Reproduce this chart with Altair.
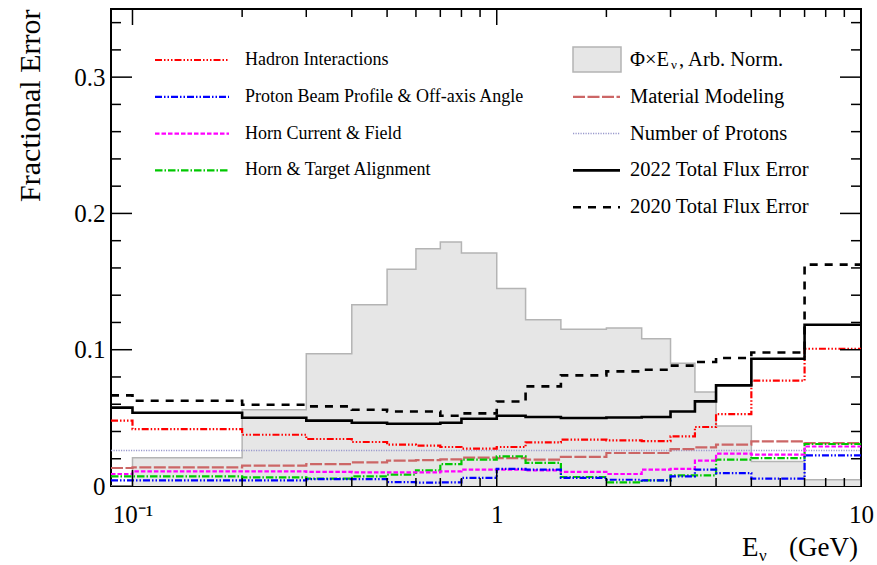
import altair as alt
import pandas as pd

# ---------------- data ----------------
edges = [0.0873, 0.1, 0.2, 0.3, 0.4, 0.5, 0.6, 0.7, 0.8, 1.0, 1.2, 1.5,
         2.0, 2.5, 3.0, 3.5, 4.0, 5.0, 7.0, 10.0]

flux = [0.0, 0.0208, 0.056, 0.097, 0.133, 0.159, 0.174, 0.179, 0.171, 0.145,
        0.122, 0.115, 0.116, 0.108, 0.090, 0.069, 0.044, 0.018, 0.0046]
hadron = [0.0479, 0.0418, 0.0376, 0.0345, 0.0323, 0.0303, 0.0296, 0.0286, 0.0274,
          0.0286, 0.032, 0.034, 0.0335, 0.033, 0.0364, 0.0433, 0.0528, 0.0773, 0.1007]
beam = [0.0041, 0.0041, 0.0041, 0.0051, 0.0051, 0.0029, 0.0025, 0.0027, 0.0059,
        0.0125, 0.012, 0.0059, 0.0046, 0.0041, 0.0071, 0.012, 0.0095, 0.0054, 0.0225]
horn_current = [0.0088, 0.0107, 0.0107, 0.0103, 0.0100, 0.0100, 0.0100, 0.0107, 0.012,
                0.012, 0.0115, 0.0103, 0.0088, 0.012, 0.0125, 0.0186, 0.0237, 0.023, 0.029]
alignment = [0.0071, 0.0071, 0.0063, 0.0054, 0.0071, 0.0083, 0.0115, 0.0161, 0.0193,
             0.0217, 0.0169, 0.0066, 0.0027, 0.0041, 0.0078, 0.0078, 0.0193, 0.0205, 0.0308]
material = [0.0132, 0.0137, 0.0149, 0.0161, 0.0173, 0.0186, 0.019, 0.0195, 0.0208,
            0.0205, 0.0193, 0.0213, 0.0242, 0.0242, 0.0271, 0.0283, 0.0303, 0.0327, 0.0315]
protons = [0.026, 0.026, 0.026, 0.026, 0.026, 0.026, 0.026, 0.026, 0.026, 0.026,
           0.026, 0.026, 0.026, 0.026, 0.026, 0.026, 0.026, 0.026, 0.026]
total_2022 = [0.0575, 0.0538, 0.0501, 0.048, 0.0464, 0.0457, 0.0457, 0.0464, 0.0494,
              0.0516, 0.0506, 0.0499, 0.0503, 0.0506, 0.0547, 0.0621, 0.0738, 0.0934, 0.1183]
total_2020 = [0.0665, 0.0626, 0.0596, 0.0584, 0.056, 0.0547, 0.0547, 0.0516, 0.0533,
              0.062, 0.0731, 0.0812, 0.0841, 0.0853, 0.0883, 0.091, 0.0939, 0.098, 0.1624]

left_names = ["Hadron Interactions", "Proton Beam Profile & Off-axis Angle",
              "Horn Current & Field", "Horn & Target Alignment"]
right_names = ["Material Modeling", "Number of Protons",
               "2022 Total Flux Error", "2020 Total Flux Error"]
flux_label = ["Φ×E", "ν", ", Arb. Norm."]
x_title = ["E", "ν", "(GeV)"]
y_title = "Fractional Error"

y_major = [0, 0.1, 0.2, 0.3]
y_minor = [0.02, 0.04, 0.06, 0.08, 0.12, 0.14, 0.16, 0.18, 0.22, 0.24, 0.26, 0.28,
           0.32, 0.34]
x_major = [0.1, 1, 10]
x_minor = [0.2, 0.3, 0.4, 0.5, 0.6, 0.7, 0.8, 0.9, 2, 3, 4, 5, 6, 7, 8, 9]

# ---------------- styling ----------------
W, H = 750, 477
FONT = "Liberation Serif"

styles = {
    "Hadron Interactions": ("#ff0000", [7, 2, 1.5, 2, 1.5, 2, 1.5, 2], 2.2),
    "Proton Beam Profile & Off-axis Angle": ("#0000ff", [7, 2, 1.5, 2, 1.5, 2], 2.2),
    "Horn Current & Field": ("#ff00ff", [4.5, 2], 2.2),
    "Horn & Target Alignment": ("#00c800", [7.5, 2, 1.5, 2], 2.2),
    "Material Modeling": ("#cc6666", [12, 2.5], 2.2),
    "Number of Protons": ("#9999cc", [1.2, 1.3], 1.5),
    "2022 Total Flux Error": ("#000000", [], 2.6),
    "2020 Total Flux Error": ("#000000", [8, 7], 2.6),
}
series = {
    "Number of Protons": protons,
    "Material Modeling": material,
    "Horn & Target Alignment": alignment,
    "Horn Current & Field": horn_current,
    "Proton Beam Profile & Off-axis Angle": beam,
    "Hadron Interactions": hadron,
    "2020 Total Flux Error": total_2020,
    "2022 Total Flux Error": total_2022,
}

xs = alt.Scale(type="log", domain=[edges[0], edges[-1]], nice=False)
ys = alt.Scale(domain=[0, 0.35], nice=False, zero=False)

x_axis = alt.Axis(values=x_major, ticks=False, domain=False, grid=False,
                  labelExpr="datum.value < 0.5 ? '10⁻¹' : (datum.value < 5 ? '1' : '10')",
                  labelFont=FONT, labelFontSize=25, labelColor="black",
                  labelPadding=16, labelFlush=False, labelOverlap=False, title=None)
y_axis = alt.Axis(values=y_major, ticks=False, domain=False, grid=False,
                  labelExpr="datum.value == 0 ? '0' : format(datum.value, '.1f')",
                  labelFont=FONT, labelFontSize=25, labelColor="black",
                  labelPadding=6, labelFlush=False, labelOverlap=False,
                  title=y_title, titleFont=FONT, titleFontSize=30,
                  titleFontWeight="normal", titleColor="black", titleAngle=270,
                  titleAlign="right", titleBaseline="middle", titleX=-81, titleY=0)


def X():
    return alt.X("e:Q", scale=xs, axis=x_axis)


def Y():
    return alt.Y("v:Q", scale=ys, axis=y_axis)


def step_df(vals):
    return pd.DataFrame({"e": edges, "v": list(vals) + [vals[-1]]})


layers = []

# flux histogram (filled + outline)
fdf = step_df(flux)
layers.append(alt.Chart(fdf).mark_area(interpolate="step-after", color="#e6e6e6",
                                       clip=True).encode(x=X(), y=Y()))
layers.append(alt.Chart(fdf).mark_line(interpolate="step-after", color="#b4b4b4",
                                       strokeWidth=1.5, clip=True).encode(x=X(), y=Y()))

# error curves
for name, vals in series.items():
    col, dash, sw = styles[name]
    kw = dict(interpolate="step-after", color=col, strokeWidth=sw, clip=True)
    if dash:
        kw["strokeDash"] = dash
    layers.append(alt.Chart(step_df(vals)).mark_line(**kw).encode(x=X(), y=Y()))

# inward ticks on all four sides
def ytick(vals, length):
    df = pd.DataFrame({"v": vals})
    a = alt.Chart(df).mark_rule(color="black", strokeWidth=1.5).encode(
        y=Y(), x=alt.value(0), x2=alt.value(length))
    b = alt.Chart(df).mark_rule(color="black", strokeWidth=1.5).encode(
        y=Y(), x=alt.value(W), x2=alt.value(W - length))
    return [a, b]


def xtick(vals, length):
    df = pd.DataFrame({"e": vals})
    a = alt.Chart(df).mark_rule(color="black", strokeWidth=1.5).encode(
        x=X(), y=alt.value(H), y2=alt.value(H - length))
    b = alt.Chart(df).mark_rule(color="black", strokeWidth=1.5).encode(
        x=X(), y=alt.value(0), y2=alt.value(length))
    return [a, b]


layers += ytick(y_major[1:], 21) + ytick(y_minor, 10)
layers += xtick(x_major, 16) + xtick(x_minor, 8)

# ---------------- legend (built by hand, ROOT style) ----------------
ROW0, STEP = 51, 36.8
for i, name in enumerate(left_names):
    col, dash, sw = styles[name]
    yy = ROW0 + STEP * i
    ldf = pd.DataFrame({"label": [name]})
    kw = dict(color=col, strokeWidth=sw)
    if dash:
        kw["strokeDash"] = dash
    layers.append(alt.Chart(ldf).mark_rule(**kw).encode(
        x=alt.value(44), x2=alt.value(118), y=alt.value(yy)))
    layers.append(alt.Chart(ldf).mark_text(align="left", baseline="middle", font=FONT,
                                           fontSize=18, color="black").encode(
        x=alt.value(134), y=alt.value(yy), text="label:N"))

# flux entry (box + composite label)
bdf = pd.DataFrame({"label": [flux_label[0]]})
layers.append(alt.Chart(bdf).mark_rect(fill="#e6e6e6", stroke="#b4b4b4",
                                       strokeWidth=1.5).encode(
    x=alt.value(462), x2=alt.value(510), y=alt.value(ROW0 - 13), y2=alt.value(ROW0 + 12)))
for txt, xx, dy, fs in [(flux_label[0], 519, 0, 20.5), (flux_label[1], 560, 5, 13),
                        (flux_label[2], 568, 0, 20.5)]:
    layers.append(alt.Chart(pd.DataFrame({"label": [txt]})).mark_text(
        align="left", baseline="middle", font=FONT, fontSize=fs, color="black").encode(
        x=alt.value(xx), y=alt.value(ROW0 + dy), text="label:N"))

for i, name in enumerate(right_names):
    col, dash, sw = styles[name]
    yy = ROW0 + STEP * (i + 1)
    ldf = pd.DataFrame({"label": [name]})
    kw = dict(color=col, strokeWidth=sw)
    if dash:
        kw["strokeDash"] = dash
    layers.append(alt.Chart(ldf).mark_rule(**kw).encode(
        x=alt.value(462), x2=alt.value(509), y=alt.value(yy)))
    layers.append(alt.Chart(ldf).mark_text(align="left", baseline="middle", font=FONT,
                                           fontSize=20.5, color="black").encode(
        x=alt.value(519), y=alt.value(yy), text="label:N"))

# x-axis title with subscript nu
for txt, xx, yy, fs, al in [(x_title[0], 631, 547, 27, "left"),
                            (x_title[1], 648, 552, 17, "left"),
                            (x_title[2], 747, 547, 27, "right")]:
    layers.append(alt.Chart(pd.DataFrame({"label": [txt]})).mark_text(
        align=al, baseline="alphabetic", font=FONT, fontSize=fs, color="black").encode(
        x=alt.value(xx), y=alt.value(yy), text="label:N"))

chart = alt.layer(*layers).properties(
    width=W, height=H,
    autosize=alt.AutoSizeParams(type="none"),
    padding={"left": 111, "top": 9, "right": 16, "bottom": 79},
    background="white",
).configure_view(stroke="black", strokeWidth=2)

chart.save("out.html", embed_options={"renderer": "svg", "actions": False})
